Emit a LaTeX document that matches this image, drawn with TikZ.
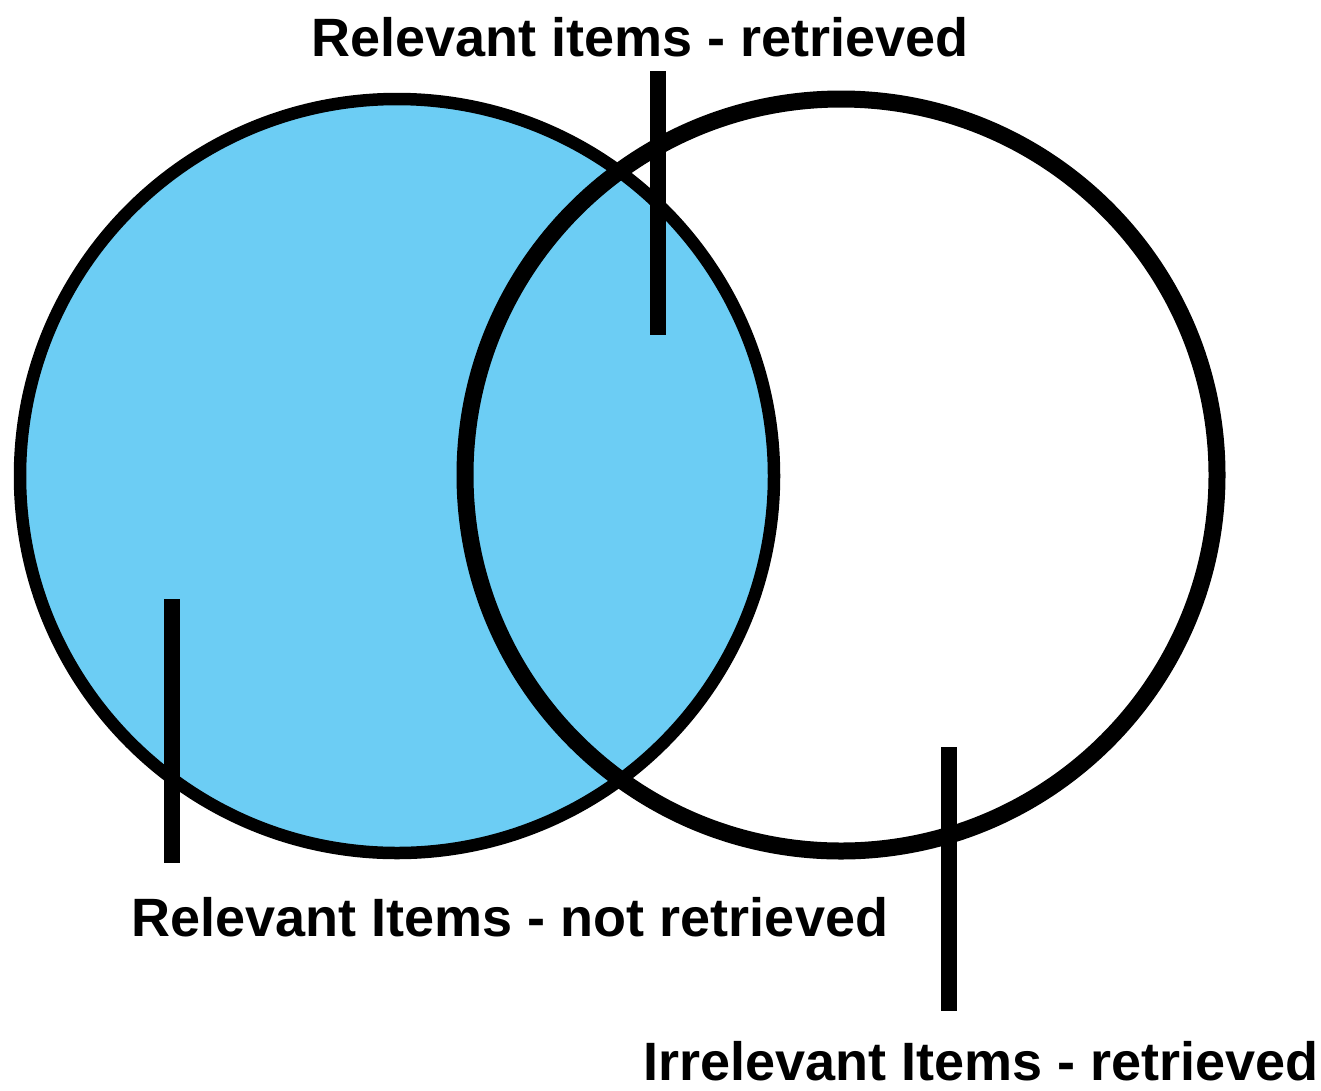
\documentclass[tikz,border=0pt]{standalone}
\usepackage{fontspec}
\setmainfont{Liberation Sans}
\definecolor{relblue}{RGB}{108,205,244}
\tikzset{
  lbl/.style={font=\bfseries\fontsize{54}{60}\selectfont, anchor=base, inner sep=0pt},
  tick/.style={line width=16pt}
}
\begin{document}
\begin{tikzpicture}[x=1pt,y=-1pt]
      \useasboundingbox (0,0) rectangle (1321,1090);
      % Define circles for relevant and retrieved items
      \def\circleRel{(397,476) circle (377pt)}
      \def\circleRet{(841,475) circle (376pt)}

      % Shade all relevant items
      \fill[relblue] \circleRel;

      % Outline the circles
      \draw[line width=12.5pt] \circleRel;
      \draw[line width=17pt] \circleRet;

      % Labels
      \node[lbl] (relret) at (640,56) {Relevant items - retrieved};
      \node[lbl] (relnot) at (510,936) {Relevant Items - not retrieved};
      \node[lbl] (irrret) at (981,1080) {Irrelevant Items - retrieved};

      % Leader lines
      \coordinate (a1) at (658,71);
      \coordinate (a2) at (658,335);
      \coordinate (b1) at (172,599);
      \coordinate (b2) at (172,863);
      \coordinate (c1) at (949,747);
      \coordinate (c2) at (949,1011);
      \draw[tick] (a1) -- (a2);
      \draw[tick] (b1) -- (b2);
      \draw[tick] (c1) -- (c2);
    \end{tikzpicture}
\end{document}
